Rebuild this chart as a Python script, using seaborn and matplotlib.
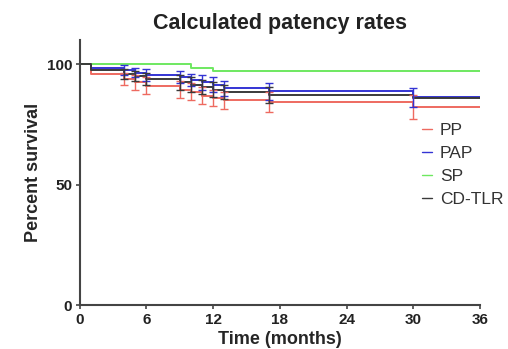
import numpy as np
import pandas as pd
import matplotlib
matplotlib.use("Agg")
import matplotlib.pyplot as plt
import seaborn as sns

# ---- data ----
months = [0, 1, 4, 5, 6, 9, 10, 11, 12, 13, 17, 30, 36]
pp     = [100, 96, 94, 92.5, 91, 89.5, 88.5, 87, 86, 85, 84.3, 82.3, 82.3]
pap    = [100, 98.5, 97.5, 96.5, 95.5, 94.5, 93.5, 92.5, 91.5, 90, 88.8, 86.3, 86.3]
sp     = [100, 100, 100, 100, 100, 100, 98.5, 98.5, 97, 97, 97, 97, 97]
cdtlr  = [100, 97.5, 96, 95, 94, 92.5, 91.5, 90.5, 89.5, 88.5, 87.2, 86, 86]

# error bar half-widths (0 = no bar)
pp_err    = [0, 0, 2.5, 3, 3.5, 3.5, 3.5, 3.5, 3.5, 3.5, 4, 5, 0]
pap_err   = [0, 0, 2, 2, 2.5, 2.5, 2.5, 3, 3, 3, 3.5, 4, 0]
sp_err    = [0] * len(months)
cdtlr_err = [0, 0, 2, 2, 2.5, 3, 3, 3, 3, 3, 3.5, 0, 0]

groups = ["PP", "PAP", "SP", "CD-TLR"]
colors = {"PP": "#ee6a60", "PAP": "#3434d4", "SP": "#6ee860", "CD-TLR": "#3a3a3a"}

vals = {"PP": pp, "PAP": pap, "SP": sp, "CD-TLR": cdtlr}
errs = {"PP": pp_err, "PAP": pap_err, "SP": sp_err, "CD-TLR": cdtlr_err}

df = pd.concat([pd.DataFrame({"Time": months, "Survival": vals[g], "Group": g})
                for g in groups], ignore_index=True)

sns.set_style("ticks")
plt.rcParams["font.family"] = ["Liberation Sans", "DejaVu Sans"]

fig = plt.figure(figsize=(5.08, 3.49), dpi=100)
ax = fig.add_axes([0.157, 0.126, 0.788, 0.759])

sns.lineplot(data=df, x="Time", y="Survival", hue="Group", palette=colors,
             drawstyle="steps-post", estimator=None, sort=False, lw=1.4, ax=ax)

for g in groups:
    t = np.array(months)
    v = np.array(vals[g])
    e = np.array(errs[g])
    m = e > 0
    if m.any():
        ax.errorbar(t[m], v[m], yerr=e[m], fmt="none", ecolor=colors[g],
                    elinewidth=1.0, capsize=3, capthick=1.0)

ax.set_xlim(0, 36)
ax.set_ylim(0, 110)
ax.set_xticks([0, 6, 12, 18, 24, 30, 36])
ax.set_yticks([0, 50, 100])
sns.despine(ax=ax)
for s in ["left", "bottom"]:
    ax.spines[s].set_linewidth(1.5)
    ax.spines[s].set_color("#444444")
ax.tick_params(length=3, width=1.2, colors="#444444", labelsize=11, pad=2.5)
for lab in ax.get_xticklabels() + ax.get_yticklabels():
    lab.set_fontweight("bold")
    lab.set_color("#222222")

ax.set_xlabel("Time (months)", fontsize=13, fontweight="bold", labelpad=3)
ax.set_ylabel("Percent survival", fontsize=13, fontweight="bold", labelpad=3)
ax.set_title("Calculated patency rates", fontsize=15.5, fontweight="bold", pad=8,
             color="#222222")

handles, labels = ax.get_legend_handles_labels()
for h in handles:
    h.set_linewidth(1.0)
ax.legend(handles, labels, frameon=False, loc="upper left",
          bbox_to_anchor=(0.815, 0.745), fontsize=12.5, handlelength=0.6,
          handletextpad=0.45, labelspacing=0.45, labelcolor="#333333")

fig.savefig("out.png", dpi=100)
